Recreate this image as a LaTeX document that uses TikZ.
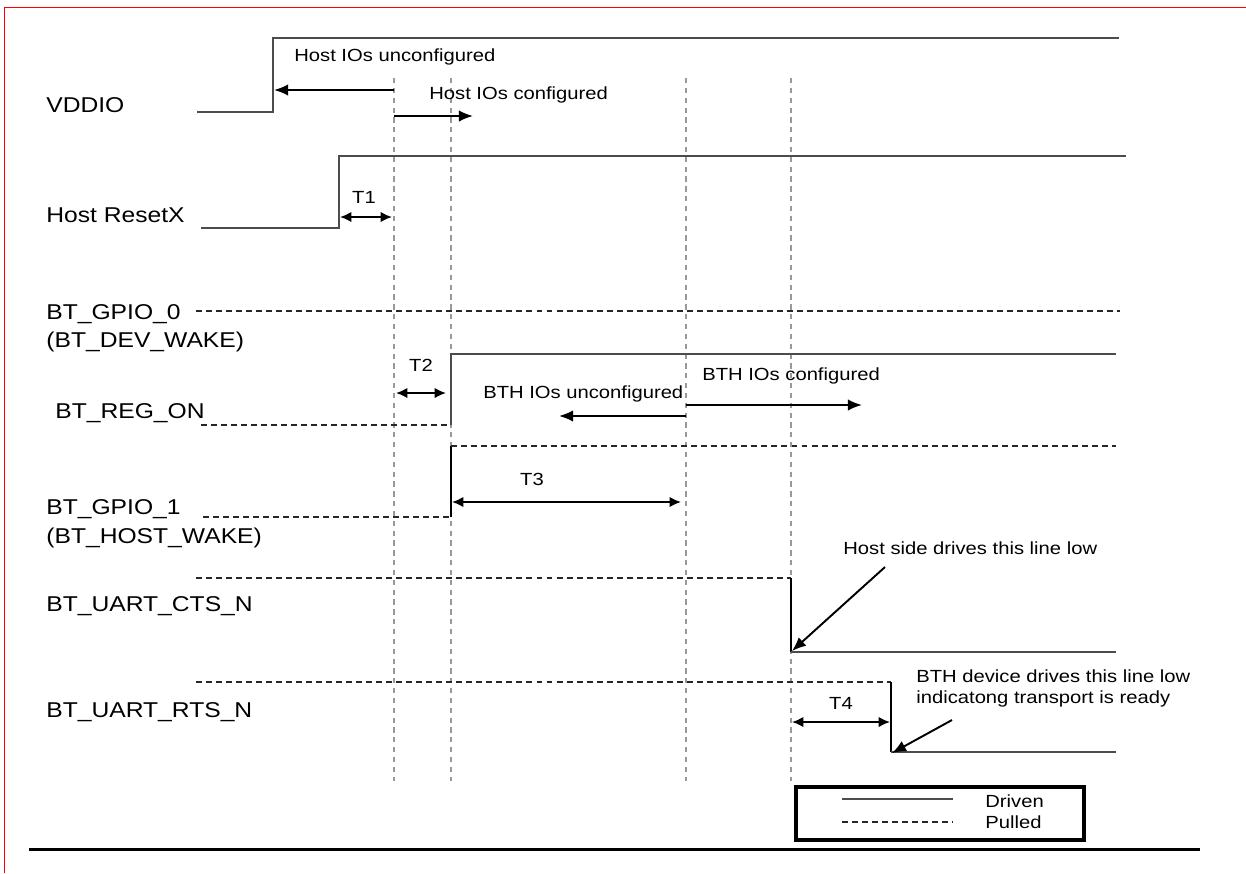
\documentclass[tikz,border=0pt]{standalone}
\usepackage{fontspec}
\setmainfont{Liberation Sans}[FakeStretch=1.15]
\usetikzlibrary{arrows.meta}

\begin{document}
\begin{tikzpicture}[x=0.02cm, y=-0.02cm,
    sig/.style={line width=1.2pt, draw=black!70},
    pulled/.style={line width=0.9pt, draw=black!85, dash pattern=on 3.4pt off 2.3pt},
    guide/.style={line width=0.6pt, draw=black!40, dash pattern=on 3pt off 2.6pt},
    dimarrow/.style={line width=1.1pt, -{Latex[length=8pt,width=6.5pt]}},
    dimboth/.style={line width=1.1pt, {Latex[length=6.5pt,width=6pt]}-{Latex[length=6.5pt,width=6pt]}},
    signame/.style={anchor=base west, inner sep=0pt, font=\fontsize{12.2}{14}\selectfont},
    note/.style={anchor=base west, inner sep=0pt, font=\fontsize{10}{12}\selectfont}]
      \useasboundingbox (0,0) rectangle (1246,873);

      % Page frame
      \draw[red, line width=0.9pt] (4.5,873) -- (4.5,7.5) -- (1246,7.5);

      % Dashed timing guides
      \foreach \n/\gx in {a/394, b/451, c/686, d/791} {
        \coordinate (top\n) at (\gx,78);
        \coordinate (bot\n) at (\gx,781);
        \draw[guide] (top\n) -- (bot\n);
      }

      % Signal names
      \node[signame] (vddio) at (46,112) {VDDIO};
      \node[signame] (hostrst) at (46,222) {Host ResetX};
      \node[signame] (gpio0) at (46,319) {BT\_GPIO\_0};
      \node[signame] (devwake) at (46,347) {(BT\_DEV\_WAKE)};
      \node[signame] (regon) at (55,418) {BT\_REG\_ON};
      \node[signame] (gpio1) at (46,514) {BT\_GPIO\_1};
      \node[signame] (hostwake) at (46,543) {(BT\_HOST\_WAKE)};
      \node[signame] (cts) at (46,611) {BT\_UART\_CTS\_N};
      \node[signame] (rts) at (46,717) {BT\_UART\_RTS\_N};

      % Waveforms
      \draw[sig] (197,112) -- (273,112) -- (273,38) -- (1119,38);
      \draw[sig] (201,228) -- (339,228) -- (339,156) -- (1126,156);
      \draw[pulled] (196,311) -- (1120,311);
      \draw[pulled] (201,425) -- (451,425);
      \draw[sig, line width=0.8pt] (451,425) -- (451,354) -- (1116,354);
      \draw[pulled] (203,517) -- (451,517);
      \draw[line width=0.6pt] (451,517) -- (451,446);
      \draw[pulled] (451,446) -- (1116,446);
      \draw[pulled] (196,578) -- (791,578);
      \draw[line width=0.8pt] (791,578) -- (791,652);
      \draw[sig] (791,652) -- (1116,652);
      \draw[pulled] (196,682) -- (891,682);
      \draw[line width=0.8pt] (891,682) -- (891,752);
      \draw[sig] (891,752) -- (1116,752);

      % Host IO notes
      \node[note] (hunconf) at (294,61) {Host IOs unconfigured};
      \draw[dimarrow] (394,90) -- (274,90);
      \node[note] (hconf) at (429,99) {Host IOs configured};
      \draw[dimarrow] (394,116) -- (473,116);

      % Timings T1..T4
      \node[note, anchor=base] (t1) at (364,203) {T1};
      \draw[dimboth] (340,217) -- (392,217);
      \node[note, anchor=base] (t2) at (421,371) {T2};
      \draw[dimboth] (396,393) -- (446,393);
      \node[note, anchor=base] (t3) at (532,485) {T3};
      \draw[dimboth] (452,502) -- (681,502);
      \node[note, anchor=base] (t4) at (841,709) {T4};
      \draw[dimboth] (792,722) -- (890,722);

      % BTH IO notes
      \node[note] (bunconf) at (483,398) {BTH IOs unconfigured};
      \draw[dimarrow] (686,416) -- (559,416);
      \node[note] (bconf) at (702,380) {BTH IOs configured};
      \draw[dimarrow] (686,405) -- (862,405);

      % UART notes
      \node[note] (hostlow) at (843,554) {Host side drives this line low};
      \draw[dimarrow] (885,567) -- (792,651);
      \node[note] (devlow) at (916,682) {BTH device drives this line low};
      \node[note] (ready) at (916,703) {indicatong transport is ready};
      \draw[dimarrow] (952,720) -- (892,753);

      % Legend
      \draw[line width=2.3pt] (796,787) rectangle (1084,840);
      \draw[sig] (842,799) -- (953,799);
      \draw[pulled] (842,822) -- (953,822);
      \node[note] (driven) at (985,807) {Driven};
      \node[note] (pulledtxt) at (985,828) {Pulled};

      % Bottom rule
      \draw[line width=1.7pt] (29,849) -- (1200,849);
\end{tikzpicture}
\end{document}
